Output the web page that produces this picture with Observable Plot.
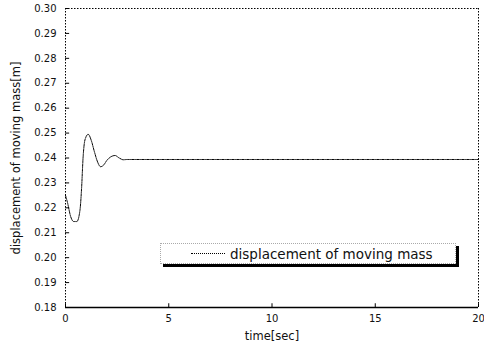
<!DOCTYPE html>
<html>
<head>
<meta charset="utf-8">
<script src="https://cdn.jsdelivr.net/npm/d3@7"></script>
<script src="https://cdn.jsdelivr.net/npm/@observablehq/plot@0.6"></script>
<style>
  html, body { margin: 0; padding: 0; background: #fff; }
  #wrap { position: relative; width: 484px; height: 355px; }
  #legend {
    position: absolute; left: 160px; top: 243px; width: 294px; height: 19px;
    border: 1px dotted #aaa; background: #fff;
    box-shadow: 3px 3px 0 #000;
    font-family: "DejaVu Sans", sans-serif; font-size: 13.5px; color: #111;
    display: flex; align-items: center;
  }
  #legend .sample { display: inline-block; width: 34px; margin-left: 30px; margin-right: 5px; border-top: 1px dotted #000; }
</style>
</head>
<body>
<div id="wrap">
  <div id="chart"></div>
  <div id="legend"><span class="sample"></span><span id="legtext"></span></div>
</div>
<script>
// time [sec]
const timeSec = [0, 0.1, 0.25, 0.4, 0.55, 0.7, 0.78, 0.85, 0.95, 1.1, 1.25, 1.4, 1.55, 1.7, 1.85, 2.0, 2.2, 2.4, 2.6, 2.8, 3.0, 20];
// displacement [m]
const displacement = [0.225, 0.222, 0.2165, 0.2145, 0.2145, 0.219, 0.228, 0.240, 0.2475, 0.2495, 0.247, 0.2425, 0.2385, 0.2365, 0.2372, 0.2390, 0.2405, 0.2410, 0.2400, 0.2393, 0.2394, 0.2394];
const xTicks = [0, 5, 10, 15, 20];
const yTicks = [0.18, 0.19, 0.20, 0.21, 0.22, 0.23, 0.24, 0.25, 0.26, 0.27, 0.28, 0.29, 0.30];
const xDomain = [0, 20];
const yDomain = [0.18, 0.30];
const seriesName = "displacement of moving mass";
const xLabel = "time[sec]";
const yLabel = "displacement of moving mass[m]";

document.getElementById("legtext").textContent = seriesName;

const data = timeSec.map((t, i) => ({t, y: displacement[i]}));

const chart = Plot.plot({
  width: 484,
  height: 355,
  marginLeft: 65,
  marginRight: 6,
  marginTop: 8,
  marginBottom: 48,
  style: {fontFamily: "DejaVu Sans, sans-serif", fontSize: "10px", color: "#111", background: "#fff"},
  x: {domain: xDomain},
  y: {domain: yDomain},
  marks: [
    Plot.axisX({ticks: xTicks, tickSize: 0, tickPadding: 7, tickFormat: d => String(d),
      label: xLabel, labelAnchor: "center", labelArrow: "none", labelOffset: 32, fontSize: 10}),
    Plot.axisY({ticks: yTicks, tickSize: 0, tickPadding: 9, tickFormat: d3.format(".2f"),
      label: yLabel, labelAnchor: "center", labelArrow: "none", labelOffset: 54, fontSize: 10}),
    // inward tick marks
    Plot.ruleY(yTicks, {x1: xDomain[0], x2: 0.2, stroke: "#000", strokeWidth: 1}),
    Plot.ruleX(xTicks, {y1: yDomain[0], y2: 0.1815, stroke: "#000", strokeWidth: 1}),
    // frame
    Plot.ruleY([yDomain[1]], {stroke: "#000", strokeDasharray: "1.5,1.5"}),
    Plot.ruleX([xDomain[0], xDomain[1]], {stroke: "#000", strokeDasharray: "1.5,1.5"}),
    Plot.ruleY([yDomain[0]], {stroke: "#000", strokeWidth: 1.5}),
    // series
    Plot.line(data, {x: "t", y: "y", stroke: "#000", strokeWidth: 1, strokeDasharray: "1.5,1", curve: "monotone-x"})
  ]
});
document.getElementById("chart").appendChild(chart);
chart.querySelectorAll('[aria-label="x-axis label"] text, [aria-label="y-axis label"] text').forEach(t => t.setAttribute("font-size", "11.5"));
</script>
</body>
</html>
